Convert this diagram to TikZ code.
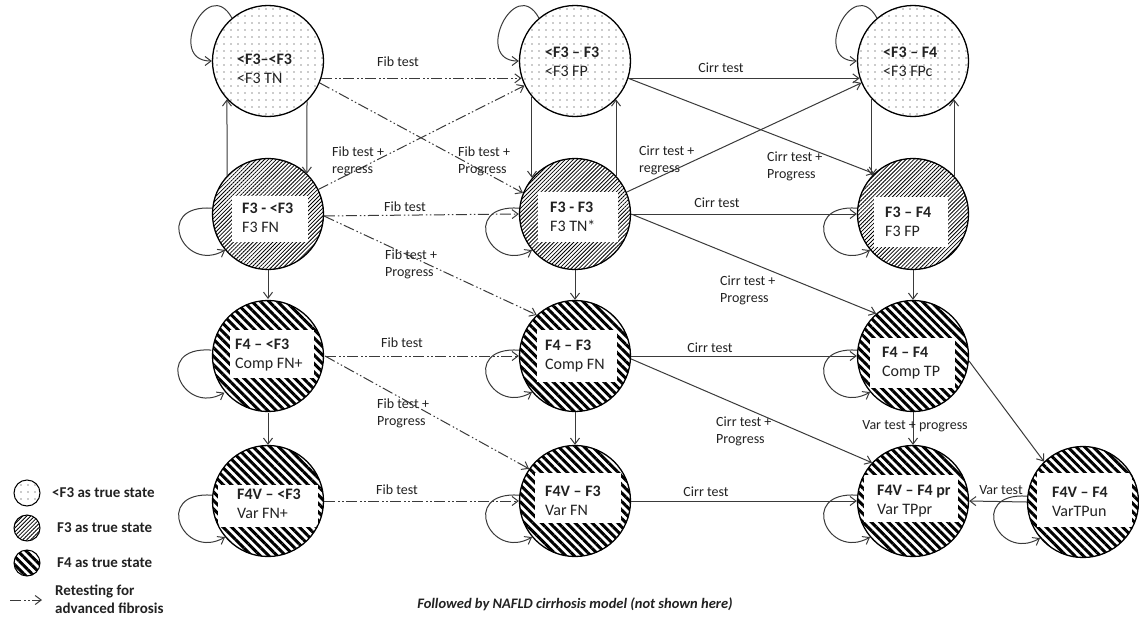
\documentclass[tikz,border=0pt]{standalone}
\usepackage{fontspec}
\setmainfont{Carlito}
\usetikzlibrary{arrows.meta,patterns.meta}
\definecolor{ln}{HTML}{3A3A3A}
\definecolor{tx}{HTML}{222222}
\begin{document}
\begin{tikzpicture}[x=1pt,y=-1pt,
  stnode/.style={circle,draw=black,line width=1.3pt,minimum size=111pt,inner sep=0pt},
  dotfill/.style={pattern={Dots[distance=7pt,radius=0.6pt]},pattern color=black!85},
  fthreefill/.style={pattern={Lines[angle=45,distance=2.8pt,line width=0.8pt]},pattern color=black},
  ffourfill/.style={pattern={Lines[angle=-45,distance=6pt,line width=3pt]},pattern color=black},
  dotst/.style={stnode,dotfill},
  fthree/.style={stnode,fthreefill},
  ffour/.style={stnode,ffourfill},
  legc/.style={circle,draw=black,line width=1pt,minimum size=26pt,inner sep=0pt},
  stxt/.style={align=left,anchor=west,inner sep=0pt,font=\fontsize{16}{19}\selectfont,text=tx},
  elab/.style={font=\fontsize{14}{17}\selectfont,text=tx,inner sep=0pt,align=left},
  legtxt/.style={font=\bfseries\fontsize{15}{18}\selectfont,text=tx,inner sep=0pt,align=left,anchor=west},
  tip/.style={-{Straight Barb[length=6pt,width=9pt]}},
  conn/.style={draw=ln,line width=1pt,tip},
  retest/.style={conn,dash pattern=on 11pt off 3pt on 1.5pt off 2.5pt on 1.5pt off 2.5pt},
  loopup/.style={conn,to path={.. controls +(-24,-44) and +(-46,0) .. (\tikztotarget)}},
  loopdn/.style={conn,to path={.. controls +(-60,-4) and +(-42,24) .. (\tikztotarget)}}
]
\fill[white] (0,0) rectangle (1139,618);
\useasboundingbox (0,0) rectangle (1139,618);

% states
\node[dotst] (a1) at (268,61) {};
\node[dotst] (b1) at (575,61) {};
\node[dotst] (c1) at (913,61) {};
\node[fthree] (a2) at (268,214) {};
\node[fthree] (b2) at (575,214) {};
\node[fthree] (c2) at (913,214) {};
\node[ffour] (a3) at (268,356) {};
\node[ffour] (b3) at (575,356) {};
\node[ffour] (c3) at (913,356) {};
\node[ffour] (a4) at (268,501) {};
\node[ffour] (b4) at (575,501) {};
\node[ffour] (c4) at (913,501) {};
\node[ffour] (d4) at (1083,502) {};

% white text areas
\begin{scope}\clip (a2.center) circle (54.5pt); \fill[white] (232,196) rectangle (308,242);\end{scope}
\begin{scope}\clip (b2.center) circle (54.5pt); \fill[white] (538,192) rectangle (618,242);\end{scope}
\begin{scope}\clip (c2.center) circle (54.5pt); \fill[white] (874,197) rectangle (948,247);\end{scope}
\begin{scope}\clip (a3.center) circle (54.5pt); \fill[white] (230,330) rectangle (314,378);\end{scope}
\begin{scope}\clip (b3.center) circle (54.5pt); \fill[white] (537,330) rectangle (617,382);\end{scope}
\begin{scope}\clip (c3.center) circle (54.5pt); \fill[white] (870,338) rectangle (955,388);\end{scope}
\begin{scope}\clip (a4.center) circle (54.5pt); \fill[white] (218,485) rectangle (318,527);\end{scope}
\begin{scope}\clip (b4.center) circle (54.5pt); \fill[white] (535,473) rectangle (621,523);\end{scope}
\begin{scope}\clip (c4.center) circle (54.5pt); \fill[white] (864,475) rectangle (958,522);\end{scope}
\begin{scope}\clip (d4.center) circle (54.5pt); \fill[white] (1037,473) rectangle (1132,527);\end{scope}

% state texts
\node[stxt] (a1t) at (237,69) {\textbf{<F3–<F3}\\<F3 TN};
\node[stxt] (b1t) at (545,62) {\textbf{<F3 – F3}\\<F3 FP};
\node[stxt] (c1t) at (883,62) {\textbf{<F3 – F4}\\<F3 FPc};
\node[stxt] (a2t) at (242,218) {\textbf{F3 - <F3}\\F3 FN};
\node[stxt] (b2t) at (550,217) {\textbf{F3 - F3}\\F3 TN*};
\node[stxt] (c2t) at (885,222) {\textbf{F3 – F4}\\F3 FP};
\node[stxt] (a3t) at (235,355) {\textbf{F4 – <F3}\\Comp FN+};
\node[stxt] (b3t) at (545,356) {\textbf{F4 – F3}\\Comp FN};
\node[stxt] (c3t) at (882,363) {\textbf{F4 – F4}\\Comp TP};
\node[stxt] (a4t) at (237,504) {\textbf{F4V – <F3}\\Var FN+};
\node[stxt] (b4t) at (545,501) {\textbf{F4V – F3}\\Var FN};
\node[stxt] (c4t) at (877,501) {\textbf{F4V – F4 pr}\\Var TPpr};
\node[stxt] (d4t) at (1052,502) {\textbf{F4V – F4}\\VarTPun};

% retesting (dash-dot) connectors
\draw[retest] (a1.-18) -- (b1.198);
\draw[retest] (a1.-23) -- (b2.158);
\draw[retest] (a2.26) -- (b1.206);
\draw[retest] (a2.-2) -- (b2.180);
\draw[retest] (a2.-2) -- (b3.133);
\draw[retest] (a3.0) -- (b3.180);
\draw[retest] (a3.0) -- (b4.145);
\draw[retest] (a4.0) -- (b4.180);

% solid connectors
\draw[conn] (b1.-18) -- (c1.198);
\draw[conn] (b1.-18) -- (c2.134);
\draw[conn] (b2.23) -- (c1.203);
\draw[conn] (b2.0) -- (c2.180);
\draw[conn] (b2.0) -- (c3.131);
\draw[conn] (b3.0) -- (c3.180);
\draw[conn] (b3.-3) -- (c4.137);
\draw[conn] (b4.0) -- (c4.180);
\draw[conn] (d4.180) -- (c4.0);
\draw[conn] (c3.-5) -- (d4.134);

% vertical connectors
\draw[conn] (a2.137) -- (a1.223);
\draw[conn] (a1.-46) -- (a2.46);
\draw[conn] (a2.-90) -- (a3.90);
\draw[conn] (a3.-90) -- (a4.90);
\draw[conn] (b1.220) -- (b2.140);
\draw[conn] (b2.43) -- (b1.-43);
\draw[conn] (b2.-90) -- (b3.90);
\draw[conn] (b3.-90) -- (b4.90);
\draw[conn] (c1.223) -- (c2.137);
\draw[conn] (c2.43) -- (c1.-43);
\draw[conn] (c2.-90) -- (c3.90);
\draw[conn] (c3.-90) -- (c4.90);

% self loops
\draw[loopup] (a1.130) to (a1.180);
\draw[loopup] (b1.130) to (b1.180);
\draw[loopup] (c1.130) to (c1.180);
\foreach \n in {a2,b2,c2,a3,b3,c3,a4,b4,c4,d4}
  \draw[loopdn] (\n.174) to (\n.220);

% edge labels
\node[elab] (l1) at (398,62) {Fib test};
\node[elab,anchor=west] (l2) at (458,161) {Fib test +\\Progress};
\node[elab,anchor=west] (l3) at (332,161) {Fib test +\\regress};
\node[elab] (l4) at (405,207) {Fib test};
\node[elab,anchor=west] (l5) at (385,264) {Fib test +\\Progress};
\node[elab] (l6) at (402,343) {Fib test};
\node[elab,anchor=west] (l7) at (377,413) {Fib test +\\Progress};
\node[elab] (l8) at (397,490) {Fib test};
\node[elab] (l9) at (721,68) {Cirr test};
\node[elab,anchor=west] (l10) at (639,160) {Cirr test +\\regress};
\node[elab,anchor=west] (l11) at (767,166) {Cirr test +\\Progress};
\node[elab] (l12) at (717,203) {Cirr test};
\node[elab,anchor=west] (l13) at (720,290) {Cirr test +\\Progress};
\node[elab] (l14) at (710,348) {Cirr test};
\node[elab,anchor=west] (l15) at (716,431) {Cirr test +\\Progress};
\node[elab] (l16) at (915,426) {Var test + progress};
\node[elab] (l17) at (706,492) {Cirr test};
\node[elab] (l18) at (1001,490) {Var test};

% legend
\node[legc,dotfill] (g1) at (27,493) {};
\node[legc,fthreefill] (g2) at (27,528) {};
\node[legc,ffourfill] (g3) at (27,563) {};
\node[legtxt] (g1t) at (52,493) {<F3 as true state};
\node[legtxt] (g2t) at (57,528) {F3 as true state};
\node[legtxt] (g3t) at (57,563) {F4 as true state};
\coordinate (r1) at (10,600);
\coordinate (r2) at (42,600);
\draw[retest] (r1) -- (r2);
\node[legtxt] (g4t) at (55,599) {Retesting for\\advanced fibrosis};

% footer
\node[font=\bfseries\itshape\fontsize{14.5}{17}\selectfont,text=tx,inner sep=0pt] (foot) at (575,604) {Followed by NAFLD cirrhosis model (not shown here)};
\end{tikzpicture}
\end{document}
